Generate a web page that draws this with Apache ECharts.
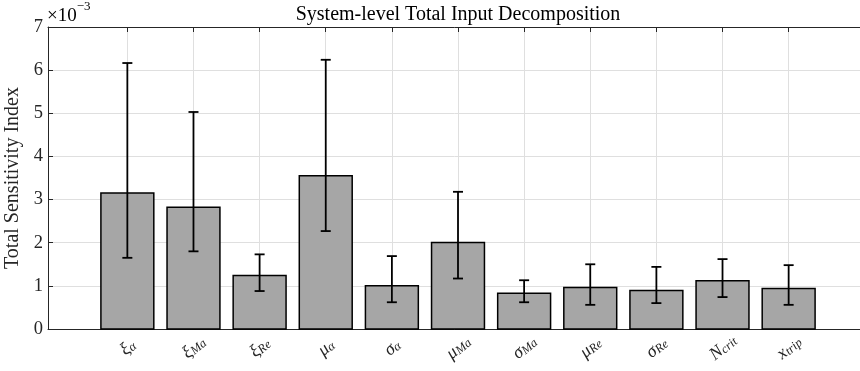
<!DOCTYPE html>
<html>
<head>
<meta charset="utf-8">
<script src="https://cdn.jsdelivr.net/npm/echarts@6/dist/echarts.min.js"></script>
<style>
html,body{margin:0;padding:0;background:#fff;}
#chart{width:860px;height:371px;}
</style>
</head>
<body>
<div id="chart"></div>
<script>
// Categories: main symbol and subscript
const catMain = ['ξ', 'ξ', 'ξ', 'μ', 'σ', 'μ', 'σ', 'μ', 'σ', 'N', 'x'];
const catSub  = ['α', 'Ma', 'Re', 'α', 'α', 'Ma', 'Ma', 'Re', 'Re', 'crit', 'trip'];
const catPos  = [1, 2, 3, 4, 5, 6, 7, 8, 9, 10, 11];
// Total sensitivity index (mean) and error bar bounds
const meanVals  = [3.15e-3, 2.82e-3, 1.24e-3, 3.55e-3, 1.005e-3, 2.005e-3, 0.83e-3, 0.96e-3, 0.89e-3, 1.12e-3, 0.94e-3];
const upperVals = [6.165e-3, 5.03e-3, 1.73e-3, 6.24e-3, 1.69e-3, 3.18e-3, 1.13e-3, 1.50e-3, 1.44e-3, 1.62e-3, 1.48e-3];
const lowerVals = [1.65e-3, 1.80e-3, 0.88e-3, 2.27e-3, 0.62e-3, 1.17e-3, 0.62e-3, 0.56e-3, 0.60e-3, 0.74e-3, 0.56e-3];
const yTicks = [0, 1, 2, 3, 4, 5, 6, 7];

const SERIF = '"Liberation Serif", "DejaVu Serif", serif';
const chart = echarts.init(document.getElementById('chart'), null, {renderer: 'canvas'});

const data = catPos.map((p, i) => [p, meanVals[i], lowerVals[i], upperVals[i]]);

const option = {
  animation: false,
  backgroundColor: '#fff',
  title: {
    text: 'System-level Total Input Decomposition',
    left: 453, top: 0, textAlign: 'center',
    textStyle: {fontFamily: SERIF, fontSize: 20, fontWeight: 'normal', color: '#000'}
  },
  graphic: [{
    type: 'text', left: 47, top: 0,
    style: {
      text: '{a|×10}{b|−3}',
      rich: {
        a: {fontFamily: SERIF, fontSize: 19, color: '#262626', verticalAlign: 'bottom', lineHeight: 26},
        b: {fontFamily: SERIF, fontSize: 13, color: '#262626', verticalAlign: 'top', lineHeight: 26, padding: [0,0,10,0]}
      }
    }
  }],
  grid: {left: 48, top: 27, width: 820, bottom: 42, containLabel: false, outerBoundsMode: 'none'},
  xAxis: [{
    type: 'value', min: -0.2, max: 12.2, position: 'bottom',
    axisLine: {show: true, onZero: false, lineStyle: {color: '#262626', width: 1}},
    axisTick: {show: false, customValues: catPos},
    splitLine: {show: true, lineStyle: {color: '#dfdfdf', width: 1}},
    axisLabel: {
      show: true, customValues: catPos, rotate: 40, align: 'center', verticalAlign: 'middle', margin: 18,
      formatter: function (v) {
        const i = Math.round(v) - 1;
        if (i < 0 || i >= catMain.length) return '';
        return '{m|' + catMain[i] + '}{s|' + catSub[i] + '}';
      },
      rich: {
        m: {fontFamily: SERIF, fontStyle: 'italic', fontSize: 18, color: '#262626', verticalAlign: 'bottom', lineHeight: 20},
        s: {fontFamily: SERIF, fontStyle: 'italic', fontSize: 12.5, color: '#262626', verticalAlign: 'bottom', lineHeight: 20}
      }
    }
  }, {
    type: 'value', min: -0.2, max: 12.2, position: 'top',
    axisLine: {show: true, onZero: false, lineStyle: {color: '#262626', width: 1}},
    axisTick: {show: true, inside: true, length: 5, customValues: catPos, lineStyle: {color: '#262626'}},
    splitLine: {show: false},
    axisLabel: {show: false}
  }],
  yAxis: {
    type: 'value', min: 0, max: 7e-3, interval: 1e-3,
    name: 'Total Sensitivity Index', nameLocation: 'middle', nameGap: 19,
    nameTextStyle: {fontFamily: SERIF, fontSize: 20, color: '#262626'},
    axisLine: {show: true, onZero: false, lineStyle: {color: '#262626', width: 1}},
    axisTick: {show: true, inside: true, length: 5, lineStyle: {color: '#262626'}},
    splitLine: {show: true, lineStyle: {color: '#dfdfdf', width: 1}},
    axisLabel: {
      margin: 5, fontFamily: SERIF, fontSize: 18.5, color: '#262626',
      formatter: function (v) {
        const k = Math.round(v * 1000);
        return yTicks.indexOf(k) >= 0 ? String(k) : '';
      }
    }
  },
  series: [{
    type: 'custom',
    xAxisIndex: 0,
    data: data,
    encode: {x: 0, y: [1, 2, 3]},
    clip: false,
    renderItem: function (params, api) {
      const x = api.value(0);
      const base = api.coord([x, 0]);
      const top = api.coord([x, api.value(1)]);
      const lo = api.coord([x, api.value(2)]);
      const hi = api.coord([x, api.value(3)]);
      const w = api.size([0.8, 0])[0];
      const cap = 5;
      return {
        type: 'group',
        children: [{
          type: 'rect',
          shape: {x: base[0] - w / 2, y: top[1], width: w, height: base[1] - top[1]},
          style: {fill: '#a6a6a6', stroke: '#000', lineWidth: 1.5}
        }, {
          type: 'line',
          shape: {x1: lo[0], y1: lo[1], x2: hi[0], y2: hi[1]},
          style: {stroke: '#000', lineWidth: 1.8}
        }, {
          type: 'line',
          shape: {x1: hi[0] - cap, y1: hi[1], x2: hi[0] + cap, y2: hi[1]},
          style: {stroke: '#000', lineWidth: 1.8}
        }, {
          type: 'line',
          shape: {x1: lo[0] - cap, y1: lo[1], x2: lo[0] + cap, y2: lo[1]},
          style: {stroke: '#000', lineWidth: 1.8}
        }]
      };
    }
  }]
};
chart.setOption(option);
</script>
</body>
</html>
